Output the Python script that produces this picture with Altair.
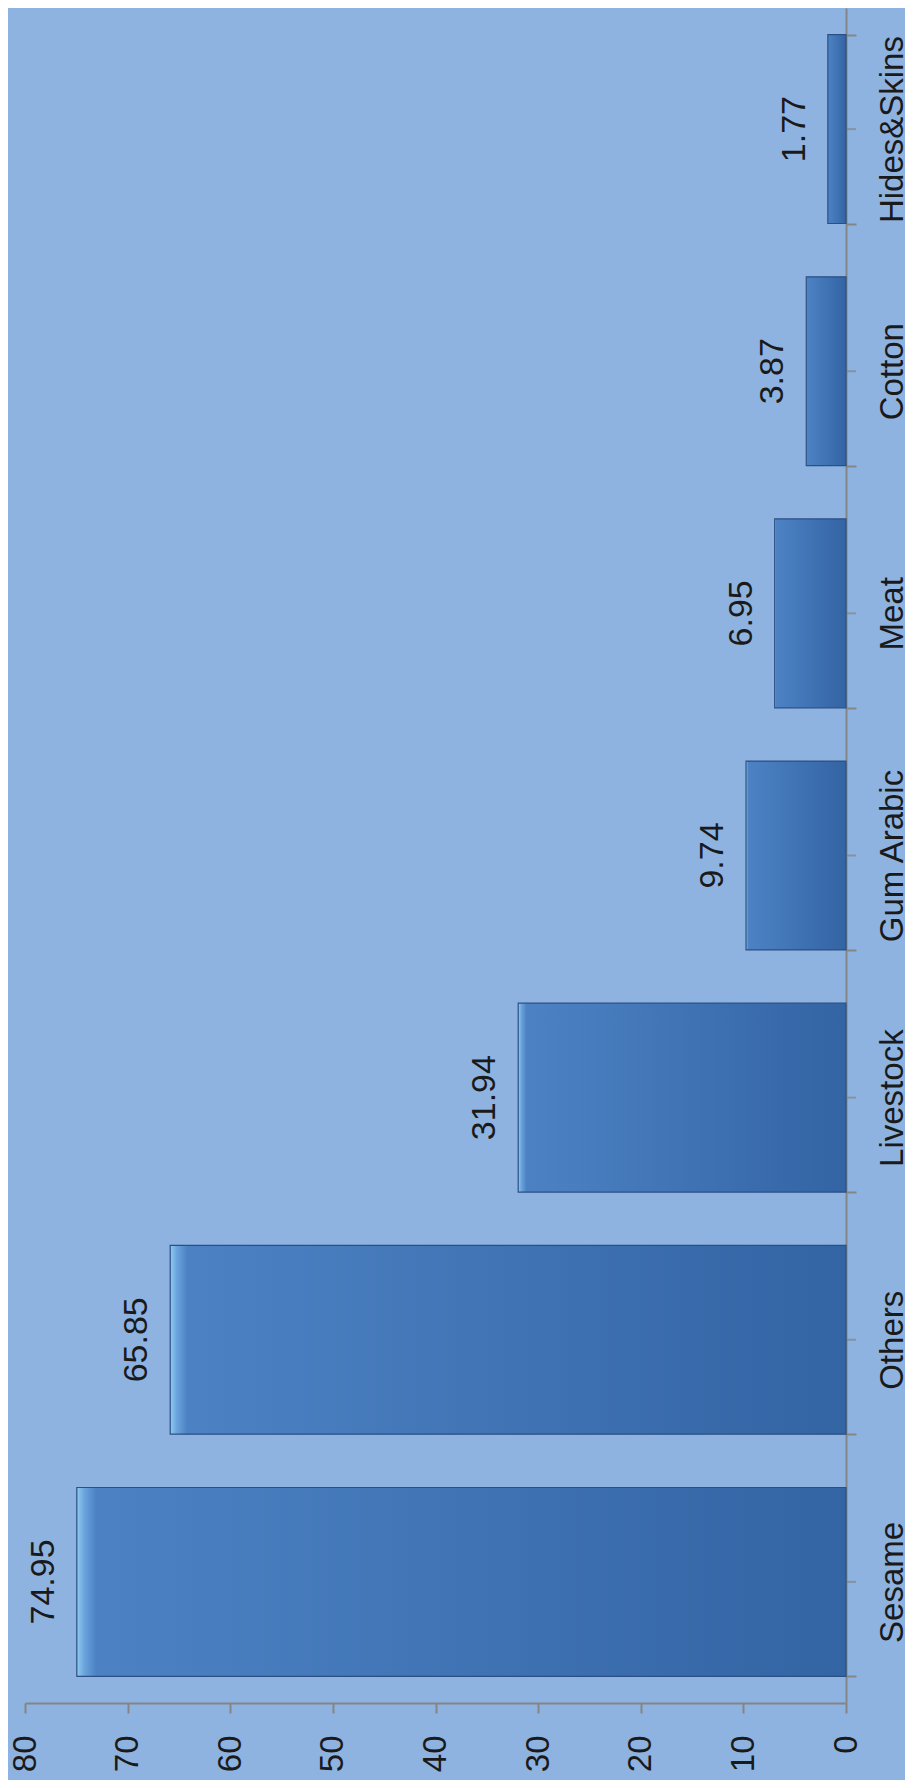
import altair as alt
import pandas as pd

categories = ["Sesame", "Others", "Livestock", "Gum Arabic", "Meat", "Cotton", "Hides&Skins"]
values = [74.95, 65.85, 31.94, 9.74, 6.95, 3.87, 1.77]
value_ticks = [0, 10, 20, 30, 40, 50, 60, 70, 80]

df = pd.DataFrame({"cat": categories, "val": values})
top_to_bottom = list(reversed(categories))

FONT = "Liberation Sans"
AXIS_GRAY = "#858585"
BG = "#8eb3e0"

xscale = alt.Scale(domain=[0, 80], reverse=True, nice=False, zero=True)
yscale = alt.Scale(domain=top_to_bottom, paddingInner=0.22, paddingOuter=0.11)

x_axis = alt.Axis(
    values=value_ticks,
    orient="bottom",
    title=None,
    labelAngle=270,
    labelAlign="right",
    labelBaseline="middle",
    labelFont=FONT,
    labelFontSize=33,
    labelColor="#1a1a1a",
    labelPadding=22,
    tickSize=10,
    tickWidth=2,
    tickColor=AXIS_GRAY,
    domainColor=AXIS_GRAY,
    domainWidth=2,
    grid=False,
    labelFlush=False,
)

y_axis = alt.Axis(
    orient="right",
    title=None,
    tickBand="extent",
    labelAngle=270,
    labelAlign="center",
    labelBaseline="top",
    labelFont=FONT,
    labelFontSize=33,
    labelColor="#1a1a1a",
    labelPadding=20,
    labelLimit=0,
    tickSize=10,
    tickWidth=2,
    tickColor=AXIS_GRAY,
    domainColor=AXIS_GRAY,
    domainWidth=2,
    grid=False,
)

grad = alt.LinearGradient(
    gradient="linear",
    stops=[
        alt.GradientStop(color="#8fcbf0", offset=0),
        alt.GradientStop(color="#6aa3dc", offset=0.01),
        alt.GradientStop(color="#4c82c4", offset=0.025),
        alt.GradientStop(color="#3364a4", offset=1),
    ],
    x1=0, x2=1, y1=0, y2=0,
)

base = alt.Chart(df)

center_ticks = base.mark_tick(orient="horizontal", size=20, thickness=2, color=AXIS_GRAY).encode(
    x=alt.datum(0, scale=xscale, axis=x_axis),
    y=alt.Y("cat:N", scale=yscale, sort=top_to_bottom, axis=y_axis),
)

bars = base.mark_bar(color=grad, stroke="#2b4f82", strokeWidth=1.2).encode(
    x=alt.X("val:Q", scale=xscale, axis=x_axis),
    y=alt.Y("cat:N", scale=yscale, sort=top_to_bottom, axis=y_axis),
)

labels = base.mark_text(
    angle=270,
    align="center",
    baseline="alphabetic",
    dy=-23,
    font=FONT,
    fontSize=34,
    color="#1a1a1a",
).encode(
    x=alt.X("val:Q", scale=xscale, axis=x_axis),
    y=alt.Y("cat:N", scale=yscale, sort=top_to_bottom, axis=y_axis),
    text=alt.Text("val:Q", format=".2f"),
)

chart = (
    alt.layer(center_ticks, bars, labels)
    .properties(
        width=821,
        height=1695,
        autosize="none",
        padding={"left": 17, "top": 0, "right": 59, "bottom": 77},
        background=BG,
    )
    .configure_view(stroke=None)
)

chart.save("out.html", embed_options={"renderer": "svg", "actions": False})
